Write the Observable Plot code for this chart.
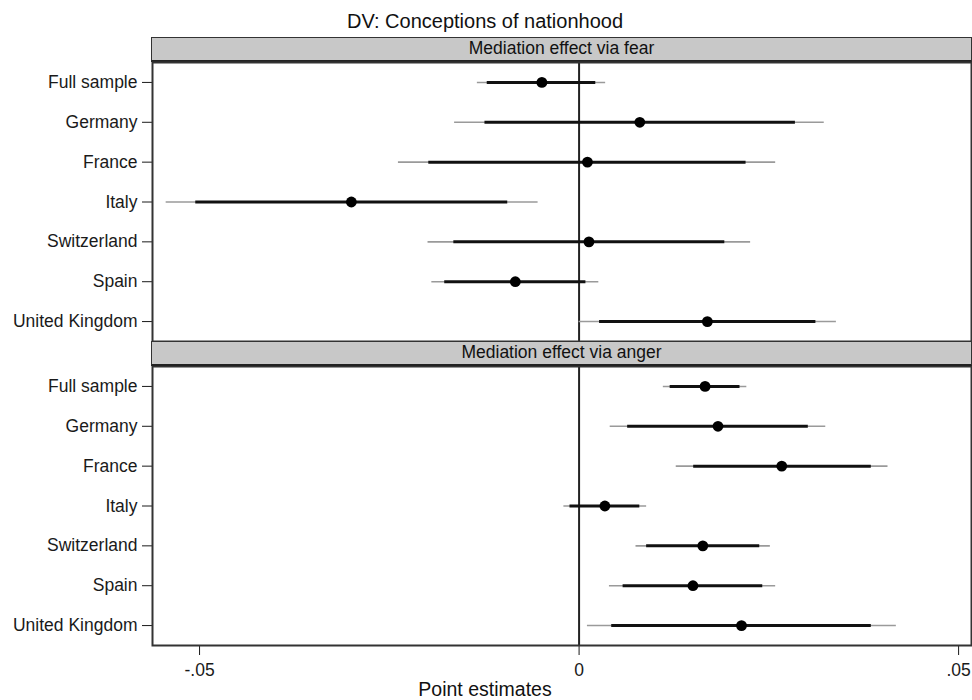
<!DOCTYPE html>
<html><head><meta charset="utf-8">
<script src="https://cdn.jsdelivr.net/npm/d3@7"></script>
<script src="https://cdn.jsdelivr.net/npm/@observablehq/plot@0.6"></script>
<style>
  body { margin: 0; background: #fff; font-family: "Liberation Sans", Arial, sans-serif; }
  #wrap { position: relative; width: 972px; height: 700px; overflow: hidden; background: #fff; }
  .abs { position: absolute; }
  #title { left: 0; top: 11px; width: 972px; text-align: center; font-size: 20px; line-height: 20px; color: #111; padding-right: 2px; box-sizing: border-box; }
  .strip { left: 151px; width: 821px; height: 25px; box-sizing: border-box; background: #c8c8c8;
           border: 1.5px solid #333; border-bottom: 2px solid #222; text-align: center;
           font-size: 17.5px; line-height: 21.5px; color: #111; }
  #xlabel { left: 0; top: 680px; width: 972px; text-align: center; font-size: 19.5px; line-height: 19.5px; color: #111; padding-right: 2px; box-sizing: border-box; }
  svg { overflow: visible; }
</style>
</head><body>
<div id="wrap"></div>
<script>
// ---- Data ----
const chartTitle = "DV: Conceptions of nationhood";
const panelTitles = ["Mediation effect via fear", "Mediation effect via anger"];
const xAxisLabel = "Point estimates";
const countries = ["Full sample", "Germany", "France", "Italy", "Switzerland", "Spain", "United Kingdom"];

// Panel 1: mediation via fear
const fearEst  = [-0.0049,  0.0080,  0.0011, -0.0300,  0.0013, -0.0084, 0.0169];
const fearLo90 = [-0.0121, -0.0124, -0.0198, -0.0505, -0.0165, -0.0177, 0.0027];
const fearHi90 = [ 0.0022,  0.0285,  0.0220, -0.0094,  0.0192,  0.0009, 0.0312];
const fearLo95 = [-0.0134, -0.0164, -0.0238, -0.0544, -0.0199, -0.0194, 0.0000];
const fearHi95 = [ 0.0035,  0.0323,  0.0259, -0.0054,  0.0226,  0.0026, 0.0339];

// Panel 2: mediation via anger
const angerEst  = [0.0166, 0.0183, 0.0267,  0.0034, 0.0163, 0.0150, 0.0214];
const angerLo90 = [0.0120, 0.0064, 0.0151, -0.0012, 0.0089, 0.0058, 0.0043];
const angerHi90 = [0.0212, 0.0302, 0.0385,  0.0080, 0.0238, 0.0242, 0.0385];
const angerLo95 = [0.0111, 0.0041, 0.0128, -0.0020, 0.0075, 0.0040, 0.0011];
const angerHi95 = [0.0221, 0.0325, 0.0407,  0.0089, 0.0252, 0.0259, 0.0418];

const xDomain = [-0.0562, 0.0517];
const xTicks = [-0.05, 0, 0.05];
const xTickLabels = ["-.05", "0", ".05"];

// ---- Build ----
const wrap = document.getElementById("wrap");
function addDiv(cls, id, text, top) {
  const d = document.createElement("div");
  d.className = cls;
  if (id) d.id = id;
  d.textContent = text;
  if (top != null) d.style.top = top + "px";
  wrap.appendChild(d);
  return d;
}

function rowsFrom(est, lo90, hi90, lo95, hi95) {
  return countries.map((c, i) => ({country: c, est: est[i], lo90: lo90[i], hi90: hi90[i], lo95: lo95[i], hi95: hi95[i]}));
}

function panel(rows, showX) {
  return Plot.plot({
    width: 972,
    height: showX ? 334 : 279,
    marginLeft: 152,
    marginRight: 1,
    marginTop: 0,
    marginBottom: showX ? 55 : 0,
    style: {fontFamily: "'Liberation Sans', Arial, sans-serif", fontSize: "17.5px", color: "#1a1a1a", background: "transparent", overflow: "visible"},
    x: {domain: xDomain, ticks: xTicks, tickFormat: d => xTickLabels[xTicks.indexOf(d)], tickSize: 10, tickPadding: 8, label: null, axis: showX ? "bottom" : null},
    y: {domain: countries, type: "point", padding: 0.5, round: false, tickSize: 10, tickPadding: 5, label: null},
    marks: [
      Plot.ruleX([0], {stroke: "#222", strokeWidth: 2}),
      Plot.ruleY(rows, {y: "country", x1: "lo95", x2: "hi95", stroke: "#9a9a9a", strokeWidth: 1.6}),
      Plot.ruleY(rows, {y: "country", x1: "lo90", x2: "hi90", stroke: "#111", strokeWidth: 3}),
      Plot.dot(rows, {x: "est", y: "country", r: 5.4, fill: "#000", stroke: "none"}),
      Plot.frame({stroke: "#333", strokeWidth: 2})
    ]
  });
}

addDiv("abs", "title", chartTitle);

addDiv("abs strip", null, panelTitles[0], 37);
const p1 = panel(rowsFrom(fearEst, fearLo90, fearHi90, fearLo95, fearHi95), false);
p1.style.position = "absolute"; p1.style.left = "0px"; p1.style.top = "62px";
wrap.appendChild(p1);

const p2 = panel(rowsFrom(angerEst, angerLo90, angerHi90, angerLo95, angerHi95), true);
p2.style.position = "absolute"; p2.style.left = "0px"; p2.style.top = "366px";
wrap.appendChild(p2);
addDiv("abs strip", null, panelTitles[1], 341);

addDiv("abs", "xlabel", xAxisLabel);
</script>
</body></html>
